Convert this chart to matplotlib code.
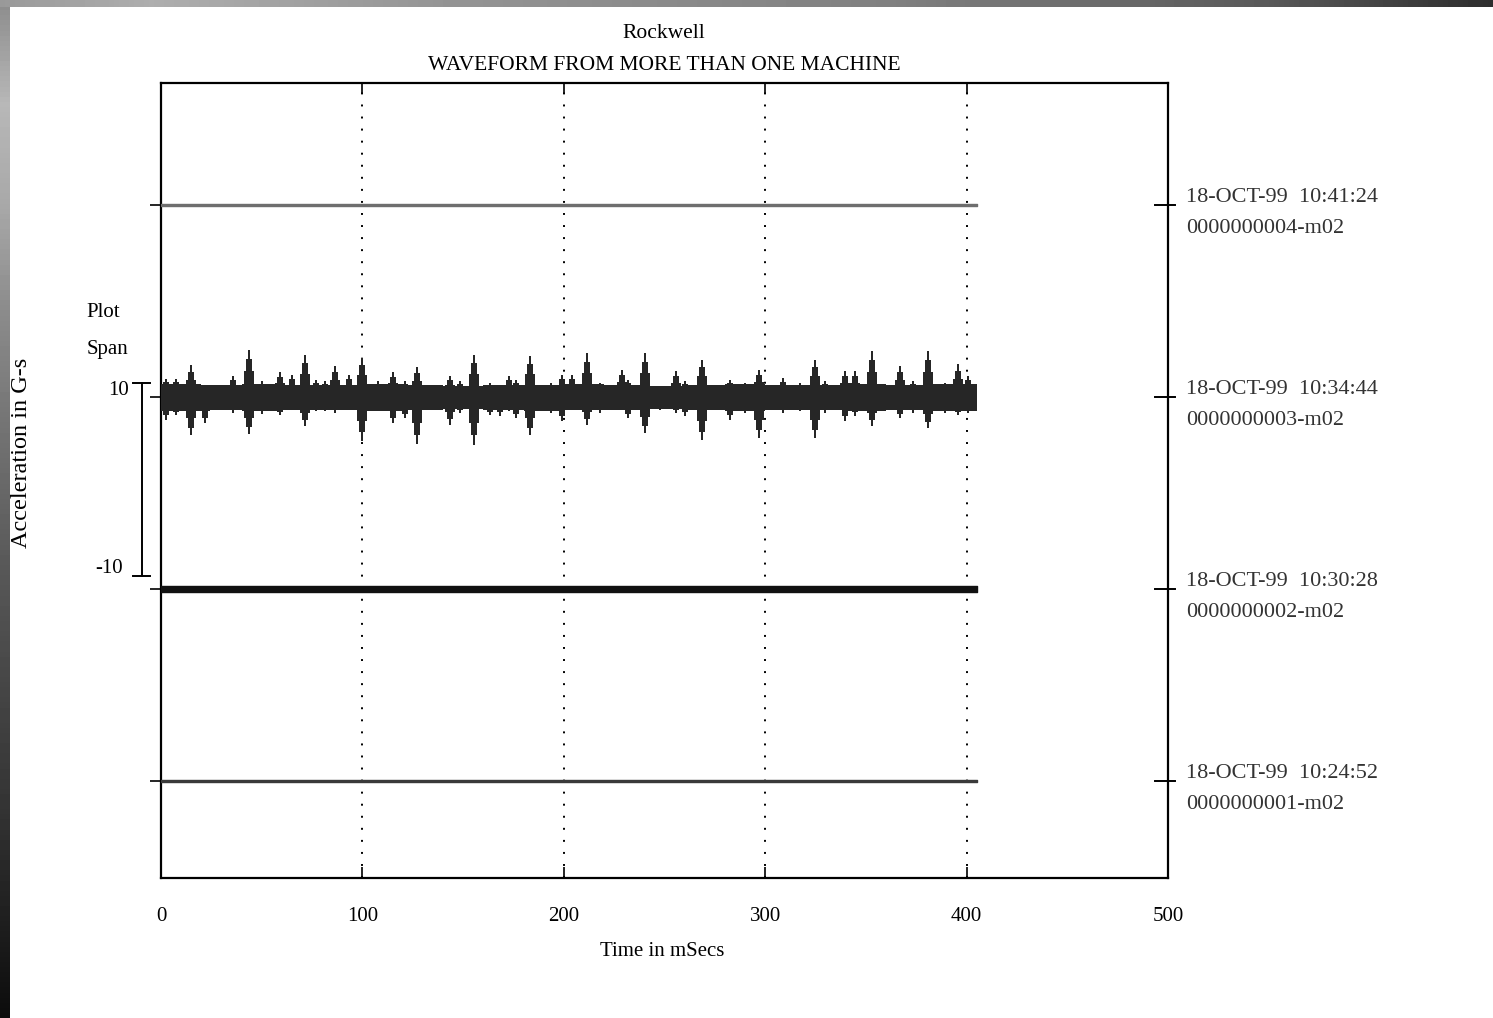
import matplotlib
matplotlib.use("Agg")
import matplotlib.pyplot as plt
import numpy as np

plt.rcParams["font.family"] = ["Liberation Serif", "DejaVu Serif"]

# Time axis (ms) and channel layout (G offset of each trace)
T_END = 405.0
CHANNEL_OFFSET = [0, 20, 40, 60]
CHANNEL_STAMP = ["18-OCT-99  10:24:52", "18-OCT-99  10:30:28",
                 "18-OCT-99  10:34:44", "18-OCT-99  10:41:24"]
CHANNEL_ID = ["0000000001-m02", "0000000002-m02",
              "0000000003-m02", "0000000004-m02"]

# Quiet channels: half-width of the noise band (G)
QUIET_HALFWIDTH = {0: 0.15, 1: 0.27, 3: 0.12}
QUIET_COLOR = {0: "#3a3a3a", 1: "#111111", 3: "#6e6e6e"}

# Machine 3: background noise envelope per 20 ms segment (G)
BG_T = [0, 20, 40, 60, 80, 100, 120, 140, 160, 180, 200,
        220, 240, 260, 280, 300, 320, 340, 360, 380, 400, 405]
BG_UP = [1.3, 1.2, 1.3, 1.2, 1.2, 1.3, 1.2, 1.1, 1.2, 1.2, 1.3,
         1.2, 1.1, 1.2, 1.3, 1.2, 1.2, 1.3, 1.2, 1.3, 1.4, 1.4]
BG_DN = [1.5, 1.4, 1.5, 1.4, 1.4, 1.5, 1.4, 1.3, 1.4, 1.5, 1.4,
         1.4, 1.3, 1.4, 1.5, 1.4, 1.4, 1.5, 1.4, 1.5, 1.5, 1.5]

# Machine 3: impact bursts (time ms, positive peak G, negative peak G)
SPK_T = [2.5, 7.4, 14.9, 21.8, 35.7, 43.7, 50.1, 59.1, 65.0, 71.5,
         77.0, 81.4, 86.4, 93.3, 99.8, 107.7, 115.2, 121.2, 127.1, 143.5,
         148.5, 155.4, 163.4, 168.3, 172.8, 176.3, 183.2, 193.6, 199.1, 204.1,
         211.5, 218.0, 228.9, 231.9, 240.3, 247.8, 255.7, 260.2, 268.6, 282.5,
         290.0, 296.9, 308.8, 317.3, 324.7, 329.7, 339.6, 344.6, 353.0, 366.9,
         373.4, 380.8, 389.3, 395.7, 400.7]
SPK_UP = [1.9, 1.9, 3.3, 1.1, 2.2, 4.9, 1.7, 2.6, 2.3, 4.4,
          1.8, 1.7, 3.2, 2.3, 4.1, 1.7, 2.6, 1.7, 3.1, 2.2,
          1.7, 4.4, 1.5, 1.1, 2.2, 1.8, 4.3, 1.5, 2.3, 2.3,
          4.6, 1.5, 2.8, 1.8, 4.6, 1.1, 2.7, 1.7, 3.9, 1.8,
          1.5, 2.8, 2.0, 1.5, 3.9, 1.7, 2.7, 2.7, 4.8, 3.2,
          1.7, 4.8, 1.5, 3.4, 2.2]
SPK_DN = [2.4, 1.9, 4.0, 2.7, 1.7, 3.9, 1.8, 1.9, 1.1, 3.0,
          1.5, 1.5, 1.7, 1.4, 4.6, 1.5, 2.7, 2.2, 4.9, 2.9,
          1.7, 5.0, 1.9, 2.0, 1.5, 2.2, 4.0, 1.7, 2.5, 1.4,
          2.9, 1.7, 1.4, 2.2, 3.8, 1.4, 1.7, 2.0, 4.5, 2.4,
          1.7, 4.3, 1.7, 1.5, 4.3, 1.7, 2.5, 2.0, 3.0, 2.2,
          1.7, 3.2, 1.7, 1.9, 1.7]

TRACE_COLOR = "#262626"


def draw_border(fig):
    # shaded frame strips along the left and top edges
    left = fig.add_axes([0, 0, 10 / 1493, 1])
    shade = np.interp(np.linspace(0, 1, 200),
                      [0, 0.1, 0.2, 0.3, 0.55, 0.8, 1.0],
                      [0.55, 0.72, 0.66, 0.55, 0.35, 0.2, 0.05])
    left.imshow(shade[:, None], cmap="gray", vmin=0, vmax=1,
                aspect="auto", extent=[0, 1, 0, 1])
    left.axis("off")
    top = fig.add_axes([0, 1 - 7 / 1018, 1, 7 / 1018])
    shade = np.interp(np.linspace(0, 1, 300),
                      [0, 0.1, 0.3, 0.6, 0.85, 1.0],
                      [0.6, 0.68, 0.58, 0.5, 0.35, 0.18])
    top.imshow(shade[None, :], cmap="gray", vmin=0, vmax=1,
               aspect="auto", extent=[0, 1, 0, 1])
    top.axis("off")


def main():
    fig = plt.figure(figsize=(14.93, 10.18), dpi=100)
    draw_border(fig)
    ax = fig.add_axes([161 / 1493, 140 / 1018, 1007 / 1493, 795 / 1018])
    ax.set_xlim(0, 500)
    ax.set_ylim(-10.1, 72.7)

    # quiet machines: narrow noise bands
    for ch, hw in QUIET_HALFWIDTH.items():
        base = CHANNEL_OFFSET[ch]
        ax.fill_between([0, T_END], base - hw, base + hw,
                        color=QUIET_COLOR[ch], lw=1.0,
                        edgecolor=QUIET_COLOR[ch], zorder=3)

    # machine 3: background envelope plus impact bursts
    base = CHANNEL_OFFSET[2]
    up = np.array(BG_UP)
    dn = np.array(BG_DN)
    ax.fill_between(BG_T, base - dn, base + up, step="post",
                    color=TRACE_COLOR, lw=0, zorder=3)
    t = np.array(SPK_T)
    su = np.array(SPK_UP)
    sd = np.array(SPK_DN)
    # each burst: broad base, narrower body, thin tip
    for frac, width in [(0.55, 5.0), (0.8, 2.6), (1.0, 1.2)]:
        ax.bar(t, frac * (su + sd), bottom=base - frac * sd, width=width,
               color=TRACE_COLOR, lw=0, zorder=3)

    # dotted time grid
    for gx in [100, 200, 300, 400]:
        ax.axvline(gx, color="black", lw=1.4, ls=(0, (1, 5.2)), zorder=2)

    ax.set_xticks([0, 100, 200, 300, 400, 500])
    ax.set_xticklabels(["0", "100", "200", "300", "400", "500"], fontsize=15)
    ax.tick_params(axis="x", direction="in", length=8, width=1.2,
                   top=True, pad=21, colors="black")
    ax.set_yticks(CHANNEL_OFFSET)
    ax.set_yticklabels([])
    ax.tick_params(axis="y", direction="out", length=8, width=1.2,
                   right=False)
    for base in CHANNEL_OFFSET:
        ax.plot([493.5, 503.5], [base, base], color="black", lw=1.4,
                clip_on=False, zorder=4)
    for sp in ax.spines.values():
        sp.set_linewidth(1.6)

    # channel stamps on the right
    for ch in range(4):
        ax.text(509, CHANNEL_OFFSET[ch] + 0.8, CHANNEL_STAMP[ch],
                fontsize=16, color="#333333", va="center", ha="left",
                clip_on=False)
        ax.text(509, CHANNEL_OFFSET[ch] - 2.45, CHANNEL_ID[ch],
                fontsize=16, color="#333333", va="center", ha="left",
                clip_on=False)

    # plot span scale bar (+/-10 G)
    span_x, span_lo, span_hi = -9.4, 21.4, 41.5
    ax.plot([span_x, span_x], [span_lo, span_hi], color="black", lw=1.4,
            clip_on=False)
    for yy in (span_lo, span_hi):
        ax.plot([span_x - 4.3, span_x + 4.0], [yy, yy], color="black",
                lw=1.4, clip_on=False)
    ax.text(-16, span_hi - 0.8, "10", fontsize=15, ha="right", va="center",
            clip_on=False)
    ax.text(-19, span_lo + 0.7, "-10", fontsize=15, ha="right", va="center",
            clip_on=False)
    ax.text(-37, 48.8, "Plot", fontsize=15, ha="left", va="center",
            clip_on=False)
    ax.text(-37, 44.9, "Span", fontsize=15, ha="left", va="center",
            clip_on=False)

    fig.text(22 / 1493, 1 - 453 / 1018, "Acceleration in G-s", fontsize=17.5,
             rotation=90, ha="center", va="center")
    fig.text(662 / 1493, 1 - 951 / 1018, "Time in mSecs", fontsize=15,
             ha="center", va="center")
    fig.text(664 / 1493, 1 - 33 / 1018, "Rockwell", fontsize=15.5,
             ha="center", va="center")
    fig.text(664 / 1493, 1 - 65 / 1018, "WAVEFORM FROM MORE THAN ONE MACHINE",
             fontsize=15.5, ha="center", va="center")

    fig.savefig("out.png", dpi=100, facecolor="white")
    plt.close(fig)


if __name__ == "__main__":
    main()
